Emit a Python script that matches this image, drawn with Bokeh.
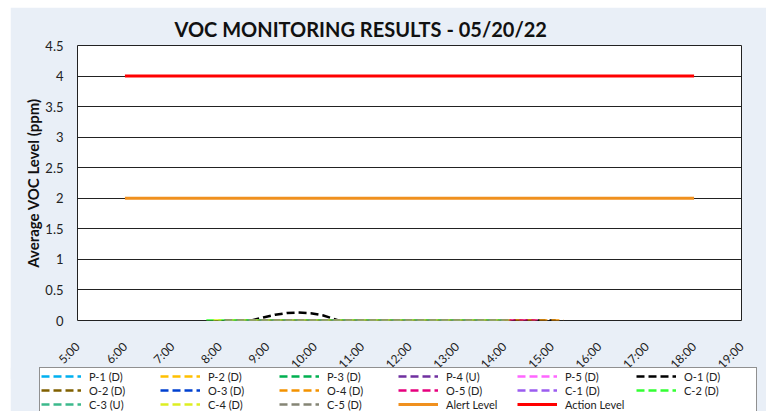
from bokeh.plotting import figure
from bokeh.models import Legend, LegendItem, FixedTicker, Range1d, Spacer
from bokeh.layouts import column, row
from bokeh.embed import file_html
from bokeh.resources import INLINE

# ---- data (times as H:MM, values in ppm) ----
series_names = ["P-1 (D)", "P-2 (D)", "P-3 (D)", "P-4 (U)", "P-5 (D)",
                "O-1 (D)", "O-2 (D)", "O-3 (D)", "O-4 (D)", "O-5 (D)",
                "C-1 (D)", "C-2 (D)", "C-3 (U)", "C-4 (D)", "C-5 (D)"]
series_colors = ["#00B0F0", "#FFC000", "#00B050", "#7030A0", "#FF66FF",
                 "#000000", "#806000", "#0040D0", "#F39200", "#E6007E",
                 "#9B5CF0", "#33FF33", "#3CB98C", "#DDEE22", "#858575"]

p1_t = ["8:10", "13:55"]; p1_v = [0, 0]
p2_t = ["8:15", "13:50"]; p2_v = [0, 0]
p3_t = ["8:20", "14:00"]; p3_v = [0, 0]
p4_t = ["8:30", "13:45"]; p4_v = [0, 0]
p5_t = ["8:25", "14:05"]; p5_v = [0, 0]
o1_t = ["8:40", "8:55", "9:10", "9:25", "9:38", "9:55", "10:10", "10:20", "10:30", "11:00", "15:05"]
o1_v = [0.0, 0.05, 0.095, 0.122, 0.13, 0.12, 0.085, 0.045, 0.0, 0.0, 0.0]
o2_t = ["8:30", "13:40"]; o2_v = [0, 0]
o3_t = ["8:35", "13:50"]; o3_v = [0, 0]
o4_t = ["8:40", "15:15"]; o4_v = [0, 0]
o5_t = ["8:45", "14:42"]; o5_v = [0, 0]
c1_t = ["8:06", "14:00"]; c1_v = [0, 0]
c2_t = ["7:43", "14:05"]; c2_v = [0, 0]
c3_t = ["8:06", "14:00"]; c3_v = [0, 0]
c4_t = ["7:52", "14:08"]; c4_v = [0, 0]
c5_t = ["8:06", "14:08"]; c5_v = [0, 0]

alert_t = ["6:00", "18:00"]; alert_v = [2, 2]
action_t = ["6:00", "18:00"]; action_v = [4, 4]

hour_ticks = list(range(5, 20))
hour_labels = [f"{h}:00" for h in hour_ticks]
y_ticks = [0, 0.5, 1, 1.5, 2, 2.5, 3, 3.5, 4, 4.5]
y_labels = ["0", "0.5", "1", "1.5", "2", "2.5", "3", "3.5", "4", "4.5"]

series_t = [p1_t, p2_t, p3_t, p4_t, p5_t, o1_t, o2_t, o3_t, o4_t, o5_t,
            c1_t, c2_t, c3_t, c4_t, c5_t]
series_v = [p1_v, p2_v, p3_v, p4_v, p5_v, o1_v, o2_v, o3_v, o4_v, o5_v,
            c1_v, c2_v, c3_v, c4_v, c5_v]


def to_h(s):
    h, m = s.split(":")
    return int(h) + int(m) / 60.0


FONT = "Lato"
BG = "#E9EFF7"
DASH = "8 4"
NAN = float("nan")

p = figure(width=756, height=372, output_backend="svg", toolbar_location=None,
           x_range=Range1d(5, 19), y_range=Range1d(0, 4.5),
           min_border_left=67, min_border_right=25, min_border_top=38,
           min_border_bottom=58)
p.frame_align = False
p.border_fill_color = BG
p.background_fill_color = "white"
p.outline_line_color = "#222222"
p.outline_line_width = 1

p.title.text = "VOC MONITORING RESULTS - 05/20/22"
p.title.text_font = FONT
p.title.text_font_size = "20px"
p.title.text_font_style = "bold"
p.title.text_color = "#111111"
p.title.align = "left"
p.title.offset = 97
p.title.standoff = 9

p.xgrid.grid_line_color = None
p.ygrid.grid_line_color = "#222222"
p.ygrid.grid_line_width = 1
p.ygrid.ticker = FixedTicker(ticks=y_ticks)

p.xaxis.ticker = FixedTicker(ticks=hour_ticks)
p.xaxis.major_label_overrides = {h: lab for h, lab in zip(hour_ticks, hour_labels)}
p.xaxis.major_label_orientation = 0.785398
p.xaxis.major_label_text_font = FONT
p.xaxis.major_label_text_font_size = "12px"
p.xaxis.major_label_text_color = "#222222"
p.xaxis.major_label_standoff = 24
p.xaxis.major_tick_out = 0
p.xaxis.axis_line_color = None
p.xaxis.major_tick_line_color = None
p.xaxis.minor_tick_line_color = None

p.yaxis.ticker = FixedTicker(ticks=y_ticks)
p.yaxis.major_label_overrides = {t: lab for t, lab in zip(y_ticks, y_labels)}
p.yaxis.major_label_text_font = FONT
p.yaxis.major_label_text_font_size = "13px"
p.yaxis.major_label_text_color = "#222222"
p.yaxis.major_label_standoff = 8
p.yaxis.axis_line_color = None
p.yaxis.major_tick_line_color = None
p.yaxis.minor_tick_line_color = None
p.yaxis.axis_label = "Average VOC Level (ppm)"
p.yaxis.axis_label_text_font = FONT
p.yaxis.axis_label_text_font_size = "15px"
p.yaxis.axis_label_text_font_style = "bold"
p.yaxis.axis_label_text_color = "#111111"
p.yaxis.axis_label_standoff = 0

# legend strip (separate figure so the legend can sit below the axis labels)
lg = figure(width=756, height=44, output_backend="svg", toolbar_location=None,
            x_axis_type=None, y_axis_type=None,
            x_range=Range1d(0, 1), y_range=Range1d(0, 1),
            min_border_left=29, min_border_right=0, min_border_top=0,
            min_border_bottom=0)
lg.frame_align = False
lg.margin = (-12, 0, 0, 0)
lg.border_fill_color = BG
lg.background_fill_color = BG
lg.outline_line_color = None
lg.xgrid.grid_line_color = None
lg.ygrid.grid_line_color = None

entries = []
for name, col, ts, vs in zip(series_names, series_colors, series_t, series_v):
    p.line([to_h(t) for t in ts], vs, line_color=col, line_width=2.5, line_dash=DASH)
    r = lg.line([NAN], [NAN], line_color=col, line_width=2.5, line_dash=DASH)
    entries.append(LegendItem(label=name, renderers=[r]))

p.line([to_h(t) for t in alert_t], alert_v, line_color="#F0901E", line_width=3)
ra = lg.line([NAN], [NAN], line_color="#F0901E", line_width=3)
entries.append(LegendItem(label="Alert Level", renderers=[ra]))
p.line([to_h(t) for t in action_t], action_v, line_color="#FF0000", line_width=3)
rb = lg.line([NAN], [NAN], line_color="#FF0000", line_width=3)
entries.append(LegendItem(label="Action Level", renderers=[rb]))

# row-major order: Bokeh fills the grid column by column
NCOLS, NROWS = 6, 3
ordered = []
for c in range(NCOLS):
    for r_ in range(NROWS):
        k = r_ * NCOLS + c
        if k < len(entries):
            ordered.append(entries[k])

legend = Legend(items=ordered, ncols=NCOLS, location="top_left",
                label_text_font=FONT, label_text_font_size="11px",
                label_text_color="#222222",
                glyph_width=40, glyph_height=14, label_height=14,
                label_width=71, label_standoff=8, spacing=0, padding=1,
                margin=0, border_line_color="#222222", border_line_width=1,
                background_fill_color="white", background_fill_alpha=1.0)
lg.add_layout(legend)

page = row(Spacer(width=10, height=411),
           column(Spacer(width=756, height=7), p, lg, spacing=0),
           spacing=0)

open("out.html", "w").write(file_html(page, INLINE))
